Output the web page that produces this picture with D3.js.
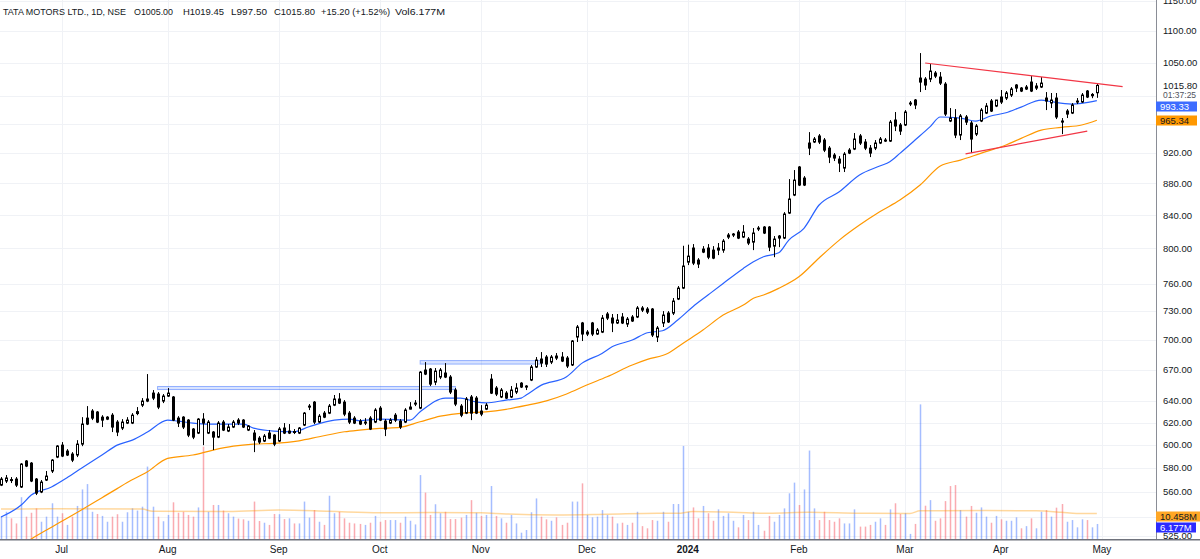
<!DOCTYPE html>
<html><head><meta charset="utf-8">
<script src="https://cdn.jsdelivr.net/npm/d3@7/dist/d3.min.js"></script>
<style>
html,body{margin:0;padding:0;background:#fff;overflow:hidden;}
svg{display:block;}
text{font-family:"Liberation Sans",Arial,sans-serif;}
</style></head>
<body><svg id="chart" width="1200" height="559"></svg>
<script>
// ---------- DATA (TATA MOTORS, daily, mid-Jun 2023 .. 30 Apr 2024; index = trading day) ----------
const opens=[565.7,569.1,570.3,570.7,564.1,586.0,584.2,570.7,560.0,569.9,
577.5,589.4,599.8,594.6,592.0,591.2,600.7,624.0,630.5,629.6,
624.9,623.1,626.7,620.4,615.0,619.5,619.5,630.0,636.0,639.8,
647.3,646.4,639.8,644.5,643.6,624.0,624.9,622.2,614.1,610.5,
623.1,610.5,611.4,606.9,620.4,612.3,615.9,622.2,622.2,613.2,
610.5,606.0,603.4,610.5,608.7,603.4,615.0,610.5,611.9,610.5,
617.7,635.1,638.8,620.4,628.6,628.6,636.0,641.7,638.8,628.6,
624.0,621.3,620.4,624.0,620.4,633.2,621.3,619.5,626.7,621.3,
620.4,632.3,637.0,633.2,669.5,670.5,657.8,662.7,666.6,662.7,
650.2,635.1,628.6,643.6,642.6,630.5,632.3,660.7,652.1,643.6,
647.3,643.6,648.3,656.8,654.0,659.8,672.5,680.4,682.4,677.4,
683.4,682.4,681.4,674.5,702.7,717.3,707.8,717.3,705.8,707.8,
726.8,722.5,717.3,723.6,716.2,723.6,723.6,733.2,732.1,732.1,
702.7,717.3,727.8,727.8,742.9,754.9,784.2,800.5,786.5,799.3,
800.5,798.1,798.1,798.1,813.5,815.9,819.5,813.5,811.1,807.5,
823.1,825.5,825.5,802.8,814.7,812.3,842.6,865.1,901.4,886.9,
933.6,935.0,943.3,937.7,926.7,917.3,911.9,900.0,924.0,925.4,
943.3,935.0,926.7,926.7,933.6,936.3,936.3,965.6,958.6,958.6,
988.5,994.3,1026.8,1025.3,1025.3,1034.4,1028.3,1017.8,964.2,968.4,
944.6,969.9,961.4,945.9,964.2,975.5,992.9,985.6,998.7,997.2,
1001.6,1016.4,1011.9,1010.5,1020.8,1014.9,1013.4,997.2,990.0,997.2,
964.2,978.4,975.5,991.4,991.4,1007.5,1002.5,1005.0];
const highs=[572.4,574.1,572.4,572.4,584.2,586.8,585.1,571.6,569.9,577.5,
587.7,599.8,602.5,596.3,593.7,604.2,624.9,635.1,632.3,630.5,
626.7,625.8,628.6,622.2,623.1,624.9,628.6,634.2,642.6,665.6,
650.2,648.3,646.4,652.1,644.5,625.8,625.8,623.1,615.0,624.0,
628.6,622.2,612.3,621.3,622.2,618.6,622.2,624.0,623.1,617.7,
613.2,607.8,609.6,613.2,609.6,615.9,619.5,618.6,614.1,615.9,
629.6,637.0,639.8,627.7,630.5,637.0,645.5,647.3,640.7,630.5,
625.8,623.1,624.0,625.8,633.2,635.1,623.1,624.0,628.6,623.1,
633.2,638.8,640.7,668.5,677.4,671.5,671.5,671.5,676.4,664.6,
652.1,637.0,643.6,645.5,644.5,636.0,637.9,665.6,654.0,652.1,
649.2,654.0,656.8,657.8,654.9,674.5,682.4,687.4,684.4,684.4,
686.4,687.4,683.4,699.6,715.2,718.4,709.9,718.4,712.0,725.7,
728.9,726.8,726.8,727.8,723.6,725.7,735.3,735.3,734.2,733.2,
714.1,729.9,729.9,744.0,757.2,803.2,804.5,805.2,788.8,802.8,
805.2,802.8,806.4,811.1,818.3,818.3,821.9,827.9,813.5,824.3,
826.7,826.7,826.7,814.7,815.9,843.8,885.6,897.4,902.7,889.5,
948.7,941.9,946.0,940.5,929.5,920.0,915.9,921.3,926.7,947.4,
946.0,939.1,930.9,937.7,941.9,940.5,965.6,977.0,961.4,979.8,
992.9,995.8,1065.1,1028.3,1048.1,1037.4,1035.9,1020.8,982.7,981.2,
974.1,972.7,964.2,960.0,982.7,989.9,995.8,994.3,1009.0,1007.5,
1013.4,1017.8,1013.4,1016.4,1029.8,1019.3,1028.3,1006.0,1004.6,1004.6,
968.4,981.2,989.9,997.2,1004.6,1009.0,1004.5,1019.45];
const lows=[564.9,567.4,567.4,564.1,563.3,580.8,568.2,557.5,559.1,569.1,
575.8,588.5,589.4,590.3,585.1,589.4,598.9,617.7,622.2,619.5,
615.9,622.2,611.4,607.8,613.2,618.6,618.6,626.7,634.2,638.8,
640.7,632.3,637.9,643.6,621.3,615.9,614.1,606.9,605.1,609.6,
599.8,609.6,595.5,606.0,612.3,611.4,615.0,617.7,615.0,612.3,
593.7,600.7,602.5,605.1,598.9,602.5,609.6,609.6,609.6,609.6,
616.8,631.4,618.6,619.5,624.0,627.7,635.1,637.0,625.8,618.6,
618.6,617.7,617.7,613.2,619.5,621.3,607.8,618.6,620.4,614.1,
619.5,631.9,635.1,632.3,664.6,654.0,654.9,660.7,661.7,646.4,
635.1,624.9,627.7,622.2,627.7,625.8,631.4,646.4,644.5,642.6,
641.7,642.6,646.4,652.1,650.2,658.8,671.5,672.5,672.5,675.4,
679.4,677.4,671.5,673.5,697.6,698.6,703.7,703.7,704.8,706.8,
720.4,707.8,716.2,716.2,713.1,718.4,722.5,728.9,726.8,702.7,
697.6,713.1,717.3,725.7,741.8,753.8,780.8,780.8,777.4,794.6,
787.6,787.6,792.3,795.0,811.1,813.5,811.1,812.3,804.0,798.1,
820.7,817.1,796.9,789.9,801.6,811.1,841.4,863.8,876.6,876.6,
917.3,933.6,932.2,921.3,906.6,909.3,894.8,894.8,918.6,924.0,
930.9,924.0,914.6,924.0,932.2,935.0,935.0,950.1,944.7,957.2,
985.6,981.2,1006.0,1009.0,1020.8,1026.8,1016.4,971.3,962.7,940.4,
937.7,958.6,920.0,943.2,962.7,974.1,977.0,984.1,988.5,994.3,
998.7,1006.0,1006.0,1009.0,1006.0,1009.0,1011.9,979.8,982.7,967.0,
945.9,968.4,974.1,988.5,990.0,997.2,997.0,997.5];
const closes=[570.7,571.6,569.5,565.7,583.4,581.7,569.1,559.1,568.2,573.2,
586.8,599.0,590.3,591.2,586.8,600.7,618.6,618.6,624.0,620.4,
622.2,624.9,615.9,611.4,620.4,622.2,626.7,628.2,639.8,641.7,
642.6,634.2,644.5,647.3,622.2,619.5,615.9,608.7,606.9,623.1,
619.5,620.4,606.9,619.5,613.2,615.9,620.4,619.5,615.9,616.8,
604.2,602.5,607.8,606.0,600.7,614.1,610.5,612.3,611.0,615.0,
628.6,634.2,620.4,625.8,624.9,635.1,641.7,637.9,627.7,620.4,
619.5,618.6,619.9,614.1,631.4,622.2,614.1,622.2,622.2,615.9,
631.4,634.2,637.9,667.5,665.6,655.9,668.5,669.5,662.7,648.3,
637.0,626.7,641.7,628.6,628.6,627.7,636.0,647.3,646.4,650.2,
642.6,650.2,652.1,653.1,653.1,672.5,679.4,676.4,675.4,682.4,
681.4,678.4,673.5,698.6,713.1,705.8,705.8,705.8,709.9,722.5,
722.5,717.3,720.4,717.3,721.4,719.4,733.2,731.0,728.9,704.8,
712.0,725.7,718.4,740.7,754.9,779.7,791.1,783.1,782.0,795.8,
789.9,788.8,800.5,808.7,815.9,817.1,812.3,819.5,806.4,818.3,
824.3,818.3,801.6,811.1,812.3,841.4,860.1,884.3,877.9,877.9,
926.7,939.1,935.0,924.0,914.6,913.3,906.6,918.6,920.0,939.1,
933.6,926.7,920.0,933.6,939.1,937.7,962.7,957.2,950.1,977.0,
990.0,987.1,1020.8,1016.4,1037.4,1029.8,1019.3,974.1,968.4,944.6,
971.3,962.7,939.1,957.2,979.8,985.6,978.4,994.3,991.4,1004.6,
1010.5,1011.9,1007.5,1013.4,1007.5,1011.9,1019.3,992.8,994.3,969.9,
962.7,974.1,987.1,992.8,1001.6,998.7,1000.6,1015.8];
// volume in millions
const volumes=[9.2,11.2,8.5,6.4,17.2,9.2,10.8,12.6,7.1,9.2,
14.7,9.2,10.6,5.8,9.2,13.6,20.4,22.6,11.2,10.3,
9.5,7.1,9.2,10.2,7.1,11.0,12.6,11.7,13.3,29.8,
13.3,9.2,7.3,9.9,15.1,10.8,11.2,9.9,9.2,13.0,
38,11.2,14,14,11.7,10.6,9.2,8.4,8.1,7.5,
15.4,7.4,6.7,5.8,10.3,10.2,8.2,8.5,6.4,6.4,
15.4,8.8,11.9,7.1,5.8,17.8,10.6,11.2,8.5,6.7,
6.4,6.2,5.8,6.7,9.5,7.1,7.8,7.8,7.8,6.7,
9.2,7.5,6.0,26.3,19.1,9.9,14.3,10.6,11.2,8.2,
8.2,8.8,9.9,16,10.8,9.5,9.9,21.8,9.5,8.5,
6.7,9.9,6.4,2.6,3.7,11,16.7,9.2,8.1,7.5,
8.9,5.8,6.7,15.4,15.4,22.9,9.9,8.9,9.2,11.9,
9.9,9.2,6.4,6.7,5.8,6.7,11.2,5.3,4.4,7.8,
7.5,11.2,7.1,14.4,14.4,38.3,11.2,13,8.5,13.6,
10.6,7.5,12.2,9.5,10.6,7.5,4.8,9.9,7.8,11.2,
5.8,3.4,9.5,7.1,9.9,12.6,18.8,23.2,14,20.4,
36.4,12.6,7.8,11.2,7.8,7.1,8.5,6.4,6.4,12.2,
5.1,5.1,5.8,7.1,8.5,5.8,12.2,14.7,10.3,10.6,
2.1,6.2,55.4,13.7,16,7.5,8.5,15.6,21.8,22.2,
11.9,9.2,13.6,10.8,13,9.2,6.7,9.5,8.1,7.5,
7.5,8.9,4.4,5.3,8.5,4.4,11.2,11.9,9.2,12.9,
14.4,7.1,7.8,4.8,8.1,7.8,4.8,6.177];
// moving averages (bar index, value)
const emaFastIdx=[0,4,6,10,13,16,20,23,26,29,33,35,38,41,44,48,50,54,58,61,66,69,71,75,81,83,88,91,94,96,100,103,104,107,112,115,119,121,125,128,131,134,137,140,143,147,149,151,154,156,159,162,166,170,174,176,178,181,184,186,190,193,196,199,202,206,208,212,214,217];
const emaFastVal=[539.9,549.4,557.5,564.1,571.6,580.0,591.2,599.8,604.2,611.4,622.2,621.3,619.5,618.6,618.6,618.6,615.0,612.3,611.7,616.2,622.2,623.1,621.6,623.1,622.2,629.8,642.6,642.6,639.1,638.1,640.7,642.6,645.5,654.9,663.0,676.1,686.0,692.7,699.6,707.1,709.2,720.4,734.6,747.3,760.1,777.0,784.6,790.4,795.0,809.9,824.0,852.6,869.3,890.9,902.7,908.4,919.6,937.7,956.3,969.9,968.4,964.2,971.3,976.0,984.1,994.3,991.9,988.5,989.5,993.33];
const emaSlowIdx=[3,6,10,13,16,20,23,25,29,33,38,42,46,50,54,59,63,68,71,75,79,83,87,92,96,100,104,108,112,116,120,125,128,132,135,139,143,147,149,151,154,158,162,166,170,174,178,182,186,190,194,199,202,206,210,214,217];
const emaSlowVal=[515.3,522.8,531.9,538.7,545.7,555.4,562.8,567.8,576.9,588.3,591.2,595.5,598.9,600.7,601.3,603.6,607.2,611.7,613.2,614.7,615.6,620.7,625.8,628.9,629.8,632.1,635.7,640.0,646.5,655.0,663.0,674.5,680.1,686.0,696.2,709.9,725.7,736.4,743.7,747.3,754.6,767.5,789.0,809.9,827.9,844.2,858.8,877.9,902.7,910.6,919.6,930.9,940.0,951.5,955.3,958.6,965.34];
const volMaIdx=[0,10,28,30,45,55,65,75,85,95,100,110,120,130,134,137,145,152,160,170,180,182,195,205,210,213,217];
const volMaVal=[12.3,12.4,12.3,11.4,11.3,11.9,11.4,10.8,10.9,10.8,10.3,9.9,10.2,10.6,10.6,11.3,11.0,10.6,11.0,10.6,10.5,11.6,11.7,11.6,11.0,10.5,10.458];
// drawings
const resistIdx=[183,222.1], resistVal=[1049.7,1014.0];
const supportIdx=[191,215.1], supportVal=[919.0,950.0];
const zoneStart=[31,83], zoneEnd=[90,107], zoneHigh=[653.6,678.9], zoneLow=[650.7,675.4];
// axes
const monthLabels=["Jul","Aug","Sep","Oct","Nov","Dec","2024","Feb","Mar","Apr","May"];
const monthIdx=[12,33,55,75,95,116,136,158,179,198,218];
const priceTicks=[1150,1100,1050,1000,960,920,880,840,800,760,730,700,670,640,620,600,580,560,540,525];
const hiddenTickLabels=[1000,960,540];
const headerTexts=["TATA MOTORS LTD., 1D, NSE","O1005.00","H1019.45","L997.50","C1015.80","+15.20 (+1.52%)","Vol6.177M"];
const lastClose=1015.80, countdown="01:37:25", fastLast=993.33, slowLast=965.34, volMaLast=10.458, volLast=6.177;

// ---------- DRAW ----------
const svg=d3.select("#chart");
const plotW=1156, plotH=539;
const x=d3.scaleLinear().domain([0,217]).range([1,1096.85]);
const y=d3.scaleLog().domain([1151.2,522]).range([0,540]);
const yv=d3.scaleLinear().domain([0,100]).range([539,296]);
const cx=i=>Math.round(x(i))+0.5;
const INK="#131722";

svg.append("rect").attr("width",1200).attr("height",559).attr("fill","#fff");
svg.append("defs").append("clipPath").attr("id","clip").append("rect")
  .attr("x",0).attr("y",0).attr("width",plotW).attr("height",plotH);

// grid
const grid=svg.append("g");
grid.selectAll("line.h").data(priceTicks).join("line")
  .attr("x1",0).attr("x2",plotW)
  .attr("y1",d=>Math.round(y(d))+0.5).attr("y2",d=>Math.round(y(d))+0.5)
  .attr("stroke","#f0f2f6").attr("stroke-width",1);
grid.selectAll("line.v").data(monthIdx).join("line")
  .attr("x1",d=>cx(d)).attr("x2",d=>cx(d)).attr("y1",0).attr("y2",plotH)
  .attr("stroke","#f0f2f6").attr("stroke-width",1);

const g=svg.append("g").attr("clip-path","url(#clip)");
const idx=d3.range(closes.length);

// volume
const upVol=i=> i===0 ? closes[i]>=opens[i] : closes[i]>=closes[i-1];
g.selectAll("rect.vol").data(idx).join("rect")
  .attr("x",i=>cx(i)-0.75).attr("width",1.5)
  .attr("y",i=>yv(volumes[i])).attr("height",i=>yv(0)-yv(volumes[i]))
  .attr("fill",i=>upVol(i)?"rgba(41,98,255,0.42)":"rgba(242,54,69,0.42)");

// volume MA
g.append("path").datum(volMaIdx.map((d,k)=>[d,volMaVal[k]]))
  .attr("d",d3.line().x(d=>x(d[0])).y(d=>yv(d[1])).curve(d3.curveMonotoneX))
  .attr("fill","none").attr("stroke","rgba(255,152,0,0.38)").attr("stroke-width",1.5);

// zones
zoneStart.forEach((s,k)=>{
  g.append("rect").attr("x",x(s)).attr("width",x(zoneEnd[k])-x(s))
   .attr("y",y(zoneHigh[k])).attr("height",y(zoneLow[k])-y(zoneHigh[k]))
   .attr("fill","rgba(41,98,255,0.18)").attr("stroke","rgba(41,98,255,0.45)").attr("stroke-width",1);
});

// EMAs
const lineP=d3.line().x(d=>x(d[0])).y(d=>y(d[1])).curve(d3.curveMonotoneX);
g.append("path").datum(emaSlowIdx.map((d,k)=>[d,emaSlowVal[k]]))
  .attr("d",lineP).attr("fill","none").attr("stroke","#ff9800").attr("stroke-width",1.2);
g.append("path").datum(emaFastIdx.map((d,k)=>[d,emaFastVal[k]]))
  .attr("d",lineP).attr("fill","none").attr("stroke","#2962ff").attr("stroke-width",1.2);

// candles
const cg=g.append("g");
cg.selectAll("line.wick").data(idx).join("line")
  .attr("x1",cx).attr("x2",cx).attr("y1",i=>y(highs[i])).attr("y2",i=>y(lows[i]))
  .attr("stroke","#000").attr("stroke-width",1);
cg.selectAll("rect.body").data(idx).join("rect")
  .each(function(i){
    const up=closes[i]>=opens[i];
    const top=y(Math.max(opens[i],closes[i])), bot=y(Math.min(opens[i],closes[i]));
    const h=Math.max(1,bot-top);
    const s=d3.select(this);
    if(up){ s.attr("x",cx(i)-1).attr("width",2).attr("y",top).attr("height",h)
             .attr("fill","#fff").attr("stroke","#000").attr("stroke-width",1); }
    else { s.attr("x",cx(i)-1.5).attr("width",3).attr("y",top-0.5).attr("height",h+1).attr("fill","#000"); }
  });

// trend lines
[[resistIdx,resistVal],[supportIdx,supportVal]].forEach(([ii,vv])=>{
  g.append("line").attr("x1",x(ii[0])).attr("y1",y(vv[0])).attr("x2",x(ii[1])).attr("y2",y(vv[1]))
   .attr("stroke","#f23645").attr("stroke-width",1.2);
});

// axes lines
svg.append("line").attr("x1",plotW+0.5).attr("x2",plotW+0.5).attr("y1",0).attr("y2",plotH)
  .attr("stroke","#8a8d96").attr("stroke-width",1);
svg.append("line").attr("x1",0).attr("x2",1200).attr("y1",plotH+0.75).attr("y2",plotH+0.75)
  .attr("stroke","#6f727c").attr("stroke-width",1.5);

// price labels
svg.append("g").selectAll("text").data(priceTicks.filter(d=>!hiddenTickLabels.includes(d))).join("text")
  .attr("x",1163).attr("y",d=>y(d)).attr("dy","0.35em")
  .attr("font-size",9.5).attr("fill",INK).text(d=>d.toFixed(2));

// month labels
svg.append("g").selectAll("text").data(monthLabels).join("text")
  .attr("x",(d,k)=>x(monthIdx[k])).attr("y",553).attr("text-anchor","middle")
  .attr("font-size",10).attr("font-weight",(d)=>d==="2024"?"bold":"normal")
  .attr("fill",INK).text(d=>d);

// right-side value labels
const rl=svg.append("g");
rl.append("rect").attr("x",plotW+1).attr("y",78).attr("width",43).attr("height",22).attr("fill","#fff");
rl.append("text").attr("x",1163).attr("y",y(lastClose)).attr("dy","0.35em").attr("font-size",9.5).attr("fill",INK).text(lastClose.toFixed(2));
rl.append("text").attr("x",1163).attr("y",95.5).attr("dy","0.35em").attr("font-size",8.5).attr("fill","#50535e").text(countdown);
function box(yc,w,fill,txtCol,txt){
  rl.append("rect").attr("x",plotW).attr("y",yc-5).attr("width",w).attr("height",10).attr("fill",fill);
  rl.append("text").attr("x",1160).attr("y",yc).attr("dy","0.35em").attr("font-size",9.5).attr("fill",txtCol).text(txt);
}
box(106.5,41,"#3d6cff","#fff",fastLast.toFixed(2));
box(120.5,41,"#ff9800",INK,slowLast.toFixed(2));
box(516.5,44,"#ffa726",INK,volMaLast.toFixed(3)+"M");
box(527.5,40,"#2b2bff","#fff",volLast.toFixed(3)+"M");

// header
const hx=[3,134,183,231,274,321,395], hw=[123,39,41,36,41,69,50];
svg.append("g").selectAll("text").data(headerTexts).join("text")
  .attr("x",(d,k)=>hx[k]).attr("y",14.5).attr("font-size",9)
  .attr("textLength",(d,k)=>hw[k]).attr("lengthAdjust","spacingAndGlyphs")
  .attr("fill",INK).text(d=>d);
</script>
</body></html>
